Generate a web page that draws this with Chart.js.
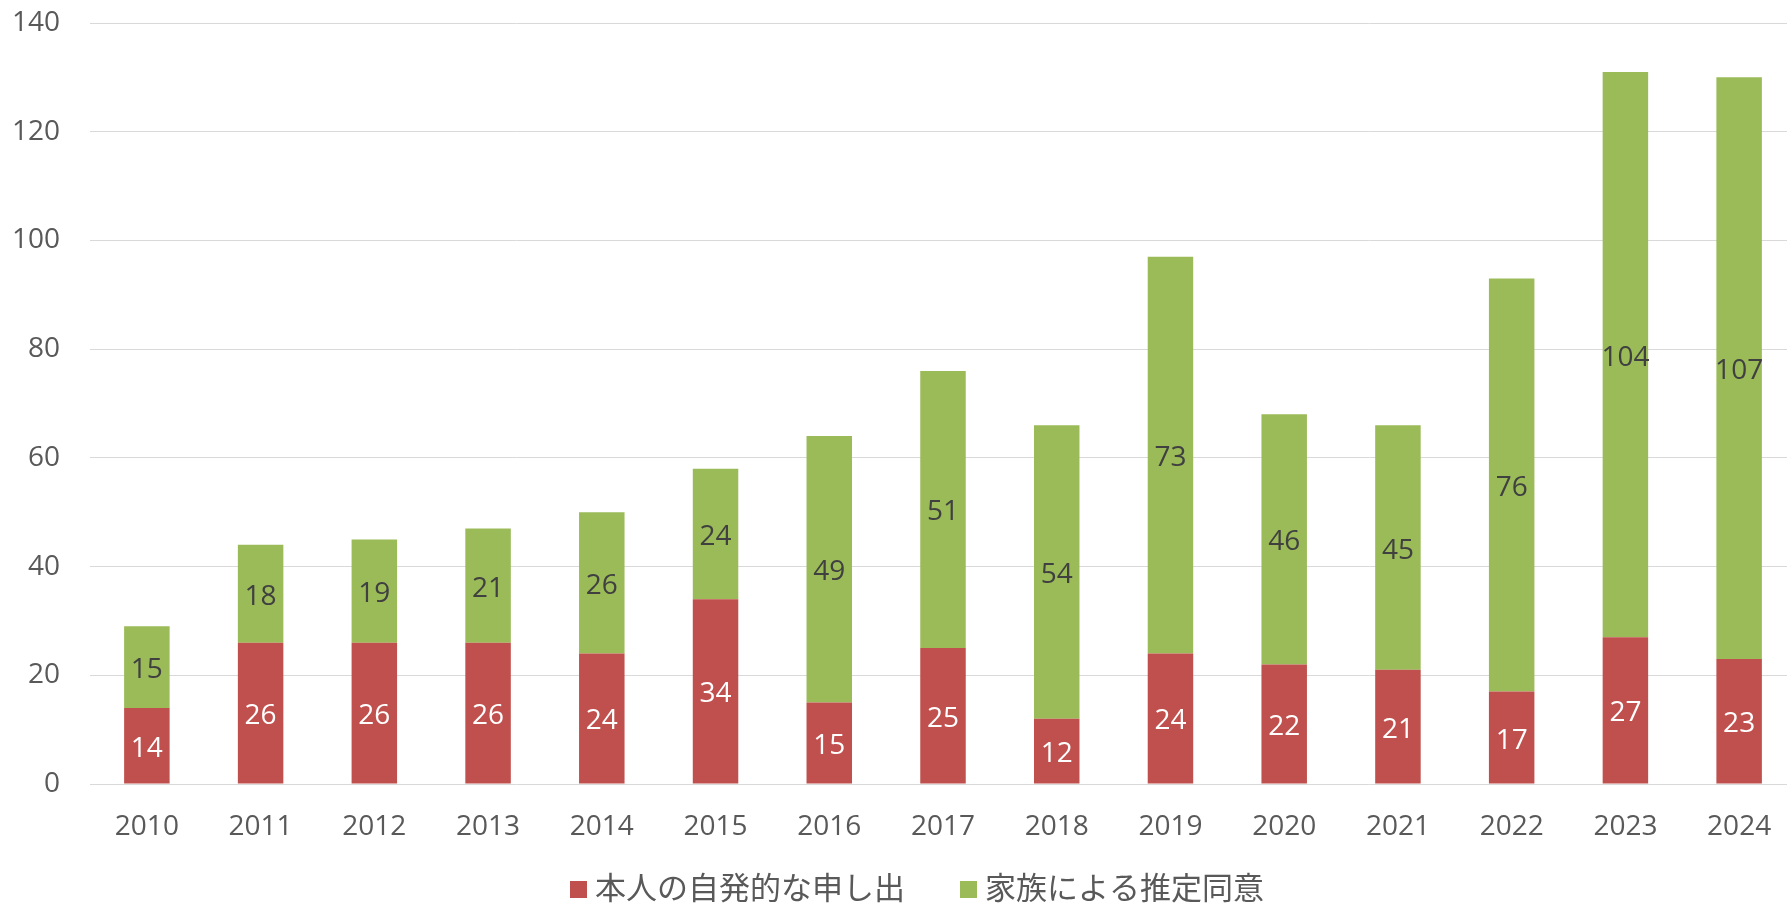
<!DOCTYPE html>
<html lang="ja">
<head>
<meta charset="utf-8">
<title>臓器提供の承諾</title>
<script src="https://cdn.jsdelivr.net/npm/chart.js@4.4.1/dist/chart.umd.min.js"></script>
<style>
  html, body { margin: 0; padding: 0; background: #fff; overflow: hidden; }
  canvas { display: block; }
</style>
</head>
<body>
<canvas id="myChart" width="1796" height="903"></canvas>
<script>
// data for the chart
var years = ['2010', '2011', '2012', '2013', '2014', '2015', '2016', '2017',
             '2018', '2019', '2020', '2021', '2022', '2023', '2024'];
var selfConsent = [14, 26, 26, 26, 24, 34, 15, 25, 12, 24, 22, 21, 17, 27, 23];
var familyConsent = [15, 18, 19, 21, 26, 24, 49, 51, 54, 73, 46, 45, 76, 104, 107];
var seriesNames = ['本人の自発的な申し出', '家族による推定同意'];
var yMax = 140;
var yStep = 20;

var numFont = '"Open Sans", "Liberation Sans", sans-serif';
var jpFont = '"Noto Sans CJK JP", "Noto Sans", sans-serif';

// writes each segment's value in the middle of the segment
const segmentLabels = {
    id: 'segmentLabels',
    afterDatasetsDraw: function (chart) {
        var ctx = chart.ctx;
        ctx.save();
        ctx.font = '28px ' + numFont;
        ctx.textAlign = 'center';
        ctx.textBaseline = 'middle';
        chart.data.datasets.forEach(function (ds, i) {
            chart.getDatasetMeta(i).data.forEach(function (bar, j) {
                ctx.fillStyle = ds.labelColor;
                ctx.fillText(ds.data[j], bar.x, (bar.y + bar.base) / 2 + 3);
            });
        });
        ctx.restore();
    }
};

// legend row under the axis: square + name for each series
const bottomLegend = {
    id: 'bottomLegend',
    afterDraw: function (chart) {
        var ctx = chart.ctx;
        var box = 17, gap = 8, itemGap = 55, center = 917;
        var y = chart.height - 14;
        ctx.save();
        ctx.font = '31px ' + jpFont;
        ctx.textBaseline = 'middle';
        ctx.textAlign = 'left';
        var items = chart.data.datasets.map(function (ds) {
            return { text: ds.label, color: ds.backgroundColor, w: ctx.measureText(ds.label).width };
        });
        var total = items.reduce(function (s, it) { return s + box + gap + it.w; }, 0)
            + itemGap * (items.length - 1);
        var x = center - total / 2;
        items.forEach(function (it) {
            ctx.fillStyle = it.color;
            ctx.fillRect(x, y - 8, box, box);
            ctx.fillStyle = '#595959';
            ctx.fillText(it.text, x + box + gap, y - 2);
            x += box + gap + it.w + itemGap;
        });
        ctx.restore();
    }
};

const data = {
    labels: years,
    datasets: [
        {
            label: seriesNames[0],
            data: selfConsent,
            backgroundColor: '#C0504D',
            labelColor: '#FFFFFF',
            borderWidth: 0
        },
        {
            label: seriesNames[1],
            data: familyConsent,
            backgroundColor: '#9BBB59',
            labelColor: '#404040',
            borderWidth: 0
        }
    ]
};

const config = {
    type: 'bar',
    data: data,
    options: {
        responsive: false,
        animation: false,
        barPercentage: 0.4,
        categoryPercentage: 1,
        layout: {
            padding: { top: 23, right: 0, bottom: 50, left: 0 }
        },
        plugins: {
            tooltip: { enabled: false },
            legend: { display: false }
        },
        scales: {
            x: {
                stacked: true,
                grid: { display: false },
                border: { display: false },
                ticks: {
                    color: '#595959',
                    padding: 18,
                    font: { family: numFont, size: 28 }
                },
                afterFit: function (scale) { scale.height = 69; }
            },
            y: {
                stacked: true,
                min: 0,
                max: yMax,
                border: { display: false },
                grid: { color: '#D9D9D9', lineWidth: 1, drawTicks: false },
                ticks: {
                    stepSize: yStep,
                    color: '#595959',
                    padding: 30,
                    font: { family: numFont, size: 28 }
                },
                afterFit: function (scale) {
                    scale.width = 90;
                    // the tick padding is horizontal only; keep it off the top and bottom
                    scale.paddingTop = 0;
                    scale.paddingBottom = 0;
                }
            }
        }
    },
    plugins: [segmentLabels, bottomLegend]
};

const myChart = new Chart(document.getElementById('myChart'), config);
</script>
</body>
</html>
